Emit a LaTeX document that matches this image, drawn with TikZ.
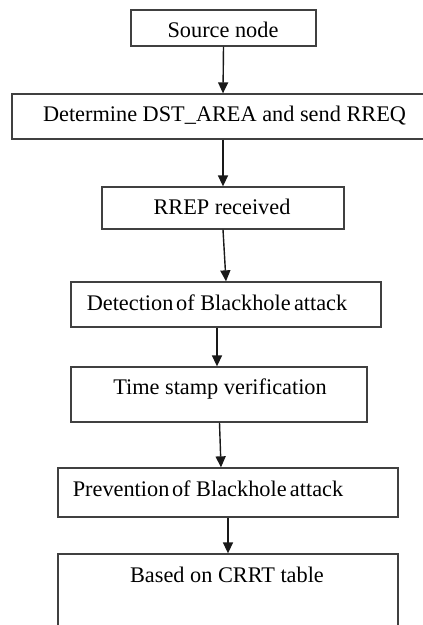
\documentclass[tikz,border=0pt]{standalone}
\usepackage{fontspec}
\setmainfont{Liberation Serif}
\usetikzlibrary{arrows.meta}
\begin{document}
\begin{tikzpicture}[x=1pt,y=1pt,
  box/.style={draw=black!75, line width=1.3pt, rectangle, inner sep=0pt},
  lbl/.style={inner sep=0pt, text height=15pt, text depth=0pt, font=\fontsize{22.3}{26}\selectfont},
  arr/.style={draw=black!90, line width=1.4pt, -{Triangle[length=11pt,width=10pt]}}]
\useasboundingbox (0,0) rectangle (423,-625);
\begin{scope}
\clip (0,0) rectangle (423,-625);
\node[box, minimum width=185pt, minimum height=36pt] (b1) at (223.5,-28) {};
\node[box, minimum width=422pt, minimum height=45pt] (b2) at (223,-116.5) {};
\node[box, minimum width=242pt, minimum height=42pt] (b3) at (223,-208) {};
\node[box, minimum width=310pt, minimum height=45pt] (b4) at (226,-304.5) {};
\node[box, minimum width=296pt, minimum height=55pt] (b5) at (219,-394.5) {};
\node[box, minimum width=340pt, minimum height=49pt] (b6) at (228,-492.5) {};
\node[box, minimum width=340pt, minimum height=96pt] (b7) at (228,-602) {};
\end{scope}
\node[lbl] (t1) at (223,-29.5) {Source node};
\node[lbl] (t2) at (224.5,-114) {Determine DST\_AREA and send RREQ};
\node[lbl] (t3) at (222,-206.5) {RREP received};
\node[lbl] (t4) at (217,-302.5) {Detection\hspace{0.12em}of Blackhole\hspace{0.15em}attack};
\node[lbl] (t5) at (220,-386.5) {Time stamp verification};
\node[lbl] (t6) at (208,-489) {Prevention\hspace{0.12em}of Blackhole\hspace{0.15em}attack};
\node[lbl] (t7) at (227,-574.5) {Based on CRRT table};
\draw[arr] (b1.south) -- (b2.north);
\draw[arr] (b2.south) -- (b3.north);
\draw[arr] (b3.south) -- (b4.north);
\draw[arr] ([xshift=-9pt]b4.south) -- ([xshift=-2pt]b5.north);
\draw[arr] ([xshift=0.5pt]b5.south) -- ([xshift=-7pt]b6.north);
\draw[arr] (b6.south) -- (b7.north);
\end{tikzpicture}
\end{document}
